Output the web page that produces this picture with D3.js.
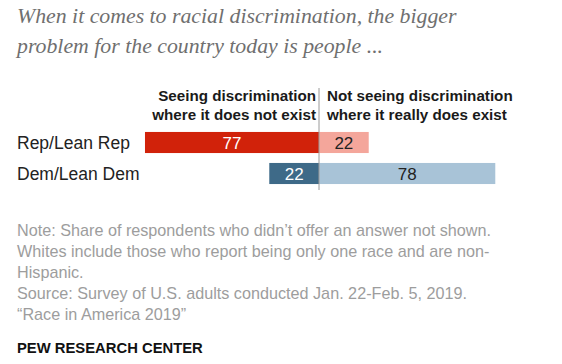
<!DOCTYPE html>
<html>
<head>
<meta charset="utf-8">
<script src="https://cdn.jsdelivr.net/npm/d3@7"></script>
<style>
  html, body { margin: 0; padding: 0; background: #fff; }
  svg { display: block; }
</style>
</head>
<body>
<svg id="chart" width="562" height="364"></svg>
<script>
const titleLines = ["When it comes to racial discrimination, the bigger", "problem for the country today is people ..."];
const categories = ["Rep/Lean Rep", "Dem/Lean Dem"];
const seeingNotExist = [77, 22];
const notSeeingExists = [22, 78];
const headerLeft = ["Seeing discrimination", "where it does not exist"];
const headerRight = ["Not seeing discrimination", "where it really does exist"];
const noteLines = [
  "Note: Share of respondents who didn\u2019t offer an answer not shown.",
  "Whites include those who report being only one race and are non-",
  "Hispanic.",
  "Source: Survey of U.S. adults conducted Jan. 22-Feb. 5, 2019.",
  "\u201cRace in America 2019\u201d"
];
const sourceLabel = "PEW RESEARCH CENTER";

const leftColors = ["#d1220a", "#3e6a88"];
const rightColors = ["#f4a69b", "#a8c3d7"];
const leftText = ["#ffffff", "#ffffff"];
const rightText = ["#222222", "#222222"];

const svg = d3.select("#chart");
const sans = "'Liberation Sans', Arial, sans-serif";

// Title
svg.append("g").selectAll("text").data(titleLines).join("text")
  .attr("x", 17).attr("y", (d, i) => 23 + i * 30)
  .attr("font-family", "'Liberation Serif', 'DejaVu Serif', serif")
  .attr("font-style", "italic")
  .attr("font-size", 21.8)
  .attr("fill", "#6f6f6f")
  .text(d => d);

const x = d3.scaleLinear().domain([-100, 100]).range([93, 545]);
const y = d3.scaleBand().domain(categories).range([127, 189]).paddingInner(0.32).paddingOuter(0.16);

// headers
svg.append("g").selectAll("text").data(headerLeft).join("text")
  .attr("x", x(0) - 3).attr("y", (d, i) => 101 + i * 19)
  .attr("text-anchor", "end")
  .attr("font-family", sans).attr("font-weight", "bold").attr("font-size", 15.2)
  .attr("fill", "#1a1a1a").text(d => d);
svg.append("g").selectAll("text").data(headerRight).join("text")
  .attr("x", x(0) + 8).attr("y", (d, i) => 101 + i * 19)
  .attr("text-anchor", "start")
  .attr("font-family", sans).attr("font-weight", "bold").attr("font-size", 15.2)
  .attr("fill", "#1a1a1a").text(d => d);

// bars
const rows = categories.map((c, i) => ({ c, i, l: seeingNotExist[i], r: notSeeingExists[i] }));
const g = svg.append("g");
g.selectAll("rect.l").data(rows).join("rect").attr("class", "l")
  .attr("x", d => x(-d.l)).attr("width", d => x(0) - x(-d.l))
  .attr("y", d => y(d.c)).attr("height", y.bandwidth())
  .attr("fill", d => leftColors[d.i]);
g.selectAll("rect.r").data(rows).join("rect").attr("class", "r")
  .attr("x", x(0)).attr("width", d => x(d.r) - x(0))
  .attr("y", d => y(d.c)).attr("height", y.bandwidth())
  .attr("fill", d => rightColors[d.i]);
g.selectAll("text.lv").data(rows).join("text").attr("class", "lv")
  .attr("x", d => (x(-d.l) + x(0)) / 2).attr("y", d => y(d.c) + y.bandwidth() / 2 + 6)
  .attr("text-anchor", "middle").attr("font-family", sans).attr("font-size", 17)
  .attr("fill", d => leftText[d.i]).text(d => d.l);
g.selectAll("text.rv").data(rows).join("text").attr("class", "rv")
  .attr("x", d => (x(d.r) + x(0)) / 2).attr("y", d => y(d.c) + y.bandwidth() / 2 + 6)
  .attr("text-anchor", "middle").attr("font-family", sans).attr("font-size", 17)
  .attr("fill", d => rightText[d.i]).text(d => d.r);

// category labels
g.selectAll("text.cat").data(rows).join("text").attr("class", "cat")
  .attr("x", 17).attr("y", d => y(d.c) + y.bandwidth() / 2 + 6)
  .attr("font-family", sans).attr("font-size", 17.5)
  .attr("fill", "#222").text(d => d.c);

// center line
svg.append("line").attr("x1", x(0)).attr("x2", x(0))
  .attr("y1", 88).attr("y2", 190)
  .attr("stroke", "#9a9a9a").attr("stroke-width", 1);

// notes
svg.append("g").selectAll("text").data(noteLines).join("text")
  .attr("x", 17).attr("y", (d, i) => 236 + i * 21)
  .attr("font-family", sans).attr("font-size", 16.2)
  .attr("fill", "#9d9d9d").text(d => d);

svg.append("text").attr("x", 17).attr("y", 353)
  .attr("font-family", sans).attr("font-weight", "bold").attr("font-size", 14.8)
  .attr("fill", "#111").text(sourceLabel);
</script>
</body>
</html>
